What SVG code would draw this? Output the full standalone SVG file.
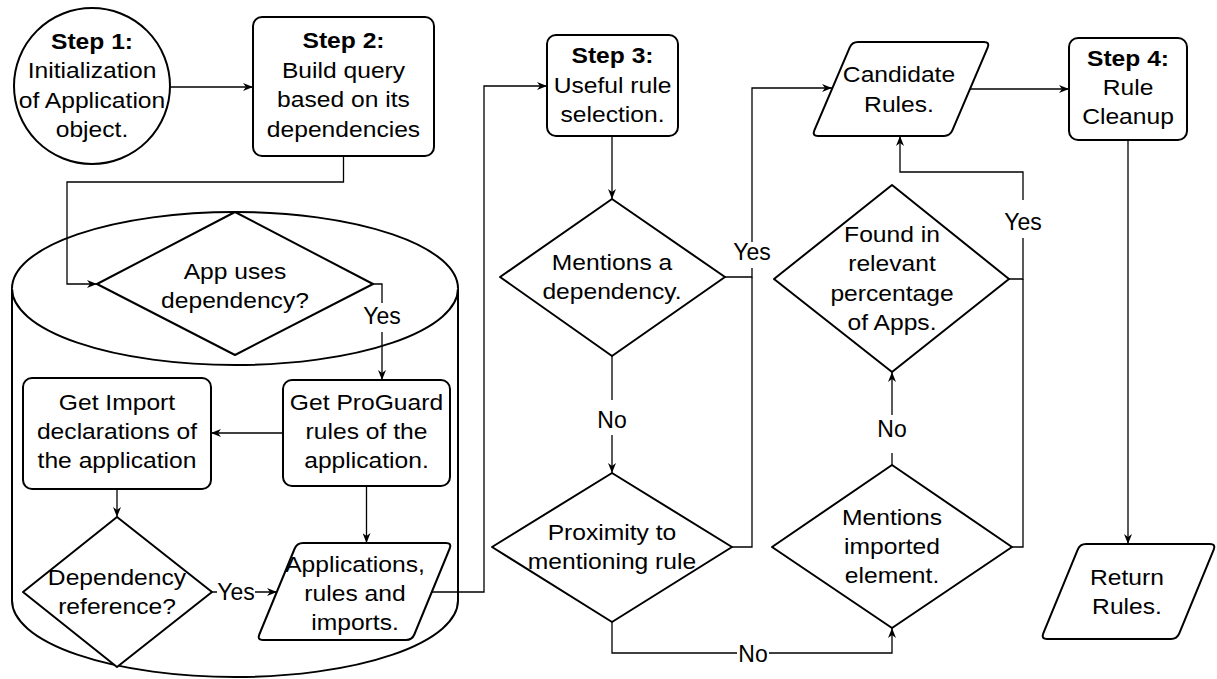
<svg xmlns="http://www.w3.org/2000/svg" width="1217" height="679" viewBox="0 0 1217 679">
<style>
.s{fill:#fff;stroke:#000;stroke-width:2;stroke-linejoin:round}
.c{fill:none;stroke:#000;stroke-width:1.3}
.t{font-family:"Liberation Sans",Arial,sans-serif;font-size:22px;text-anchor:middle;fill:#000}
.b{font-weight:bold}
.l{font-family:"Liberation Sans",Arial,sans-serif;font-size:23px;text-anchor:middle;fill:#000}
</style>
<defs>
<marker id="a" viewBox="0 0 10 8" refX="10" refY="4" markerWidth="10" markerHeight="8" markerUnits="userSpaceOnUse" orient="auto">
<path d="M0,0 L10,4 L0,8 L3,4 Z" fill="#000"/>
</marker>
</defs>
<rect width="1217" height="679" fill="#fff"/>

<g id="database">
<path class="s" d="M12,288.5 A223,76.5 0 0 1 458,288.5 L458,600.5 A223,76.5 0 0 1 12,600.5 Z"/>
<path class="s" fill="none" d="M12,288.5 A223,76.5 0 0 0 458,288.5"/>
</g>

<g id="step1">
<circle class="s" cx="92" cy="86" r="78"/>
<g transform="translate(92 0) scale(1.12 1)">
<text class="t b" x="0" y="49">Step 1:</text>
<text class="t" x="0" y="78.5">Initialization</text>
<text class="t" x="0" y="108">of Application</text>
<text class="t" x="0" y="137.5">object.</text>
</g>
</g>

<g id="step2">
<rect class="s" x="253" y="17" width="181" height="139" rx="9"/>
<g transform="translate(343.5 0) scale(1.12 1)">
<text class="t b" x="0" y="48.5">Step 2:</text>
<text class="t" x="0" y="78">Build query</text>
<text class="t" x="0" y="107.5">based on its</text>
<text class="t" x="0" y="137">dependencies</text>
</g>
</g>

<g id="appUses">
<path class="s" d="M235,212 L373,284 L235,355 L97,284 Z"/>
<g transform="translate(235 0) scale(1.12 1)">
<text class="t" x="0" y="279">App uses</text>
<text class="t" x="0" y="308">dependency?</text>
</g>
</g>

<g id="getImport">
<rect class="s" x="23" y="378" width="188" height="111" rx="9"/>
<g transform="translate(117 0) scale(1.12 1)">
<text class="t" x="0" y="410">Get Import</text>
<text class="t" x="0" y="439">declarations of</text>
<text class="t" x="0" y="468">the application</text>
</g>
</g>

<g id="getProGuard">
<rect class="s" x="283" y="380" width="167" height="106" rx="9"/>
<g transform="translate(366.5 0) scale(1.12 1)">
<text class="t" x="0" y="410">Get ProGuard</text>
<text class="t" x="0" y="439">rules of the</text>
<text class="t" x="0" y="468">application.</text>
</g>
</g>

<g id="depRef">
<path class="s" d="M117,517 L212,592 L117,667 L23,592 Z"/>
<g transform="translate(117 0) scale(1.12 1)">
<text class="t" x="0" y="585">Dependency</text>
<text class="t" x="0" y="614">reference?</text>
</g>
</g>

<g id="applications">
<path class="s" d="M303,543 L446,543 Q452,543 449.7,548.5 L414.3,634.5 Q412,640 406,640 L263,640 Q257,640 259.3,634.5 L294.7,548.5 Q297,543 303,543 Z"/>
<g transform="translate(355 0) scale(1.12 1)">
<text class="t" x="0" y="572">Applications,</text>
<text class="t" x="0" y="601">rules and</text>
<text class="t" x="0" y="630">imports.</text>
</g>
</g>

<g id="step3">
<rect class="s" x="547" y="35" width="131" height="101" rx="9"/>
<g transform="translate(612.5 0) scale(1.12 1)">
<text class="t b" x="0" y="63">Step 3:</text>
<text class="t" x="0" y="93">Useful rule</text>
<text class="t" x="0" y="122">selection.</text>
</g>
</g>

<g id="mentionsDep">
<path class="s" d="M612,199 L725,277 L612,356 L500,277 Z"/>
<g transform="translate(612 0) scale(1.12 1)">
<text class="t" x="0" y="270.5">Mentions a</text>
<text class="t" x="0" y="299">dependency.</text>
</g>
</g>

<g id="proximity">
<path class="s" d="M612,473 L732,547 L612,622 L492,547 Z"/>
<g transform="translate(612 0) scale(1.12 1)">
<text class="t" x="0" y="540">Proximity to</text>
<text class="t" x="0" y="569">mentioning rule</text>
</g>
</g>

<g id="candidate">
<path class="s" d="M858,42 L984,42 Q990,42 987.65,47.53 L952.35,130.47 Q950,136 944,136 L818,136 Q812,136 814.35,130.47 L849.65,47.53 Q852,42 858,42 Z"/>
<g transform="translate(899 0) scale(1.12 1)">
<text class="t" x="0" y="82">Candidate</text>
<text class="t" x="0" y="112">Rules.</text>
</g>
</g>

<g id="found">
<path class="s" d="M892,185 L1009,279 L892,372 L774,279 Z"/>
<g transform="translate(892 0) scale(1.12 1)">
<text class="t" x="0" y="242">Found in</text>
<text class="t" x="0" y="271.5">relevant</text>
<text class="t" x="0" y="301">percentage</text>
<text class="t" x="0" y="330.5">of Apps.</text>
</g>
</g>

<g id="mentionsImported">
<path class="s" d="M892,465 L1012,547 L892,628 L772,547 Z"/>
<g transform="translate(892 0) scale(1.12 1)">
<text class="t" x="0" y="525">Mentions</text>
<text class="t" x="0" y="554">imported</text>
<text class="t" x="0" y="583">element.</text>
</g>
</g>

<g id="step4">
<rect class="s" x="1069" y="38" width="118" height="102" rx="9"/>
<g transform="translate(1128 0) scale(1.12 1)">
<text class="t b" x="0" y="66">Step 4:</text>
<text class="t" x="0" y="95">Rule</text>
<text class="t" x="0" y="124">Cleanup</text>
</g>
</g>

<g id="returnRules">
<path class="s" d="M1086,544 L1210,544 Q1216,544 1213.72,549.55 L1179.28,633.45 Q1177,639 1171,639 L1047,639 Q1041,639 1043.28,633.45 L1077.72,549.55 Q1080,544 1086,544 Z"/>
<g transform="translate(1127 0) scale(1.12 1)">
<text class="t" x="0" y="585">Return</text>
<text class="t" x="0" y="614">Rules.</text>
</g>
</g>

<g id="connectors">
<path class="c" marker-end="url(#a)" d="M170,87 L253,87"/>
<path class="c" marker-end="url(#a)" d="M343.5,156 L343.5,182 L67,182 L67,284 L97,284"/>
<path class="c" marker-end="url(#a)" d="M373,284 L382,284 L382,380"/>
<path class="c" marker-end="url(#a)" d="M283,433 L211,433"/>
<path class="c" marker-end="url(#a)" d="M117,489 L117,517"/>
<path class="c" marker-end="url(#a)" d="M366.5,486 L366.5,543"/>
<path class="c" marker-end="url(#a)" d="M212,592 L277,592"/>
<path class="c" marker-end="url(#a)" d="M432,592 L484,592 L484,86 L547,86"/>
<path class="c" marker-end="url(#a)" d="M612,136 L612,199"/>
<path class="c" marker-end="url(#a)" d="M725,277 L752,277 L752,88 L832,88"/>
<path class="c" d="M732,547 L752,547 L752,277"/>
<path class="c" marker-end="url(#a)" d="M612,356 L612,473"/>
<path class="c" marker-end="url(#a)" d="M612,622 L612,653 L892,653 L892,628"/>
<path class="c" marker-end="url(#a)" d="M892,465 L892,372"/>
<path class="c" marker-end="url(#a)" d="M1009,279 L1023,279 L1023,172 L900,172 L900,136"/>
<path class="c" d="M1012,547 L1023,547 L1023,279"/>
<path class="c" marker-end="url(#a)" d="M970,89 L1069,89"/>
<path class="c" marker-end="url(#a)" d="M1128,140 L1128,544"/>
<g id="labels">
<rect x="364" y="303" width="36" height="29" fill="#fff"/>
<text class="l" x="382" y="324">Yes</text>
<rect x="217" y="580" width="38" height="24" fill="#fff"/>
<text class="l" x="236" y="600">Yes</text>
<rect x="732" y="242" width="40" height="26" fill="#fff"/>
<text class="l" x="752" y="260">Yes</text>
<rect x="596" y="400" width="32" height="35" fill="#fff"/>
<text class="l" x="612" y="428">No</text>
<rect x="737" y="641" width="32" height="24" fill="#fff"/>
<text class="l" x="753" y="662">No</text>
<rect x="876" y="415" width="32" height="38" fill="#fff"/>
<text class="l" x="892" y="437">No</text>
<rect x="1004" y="200" width="38" height="38" fill="#fff"/>
<text class="l" x="1023" y="230">Yes</text>
</g>
</g>
</svg>
